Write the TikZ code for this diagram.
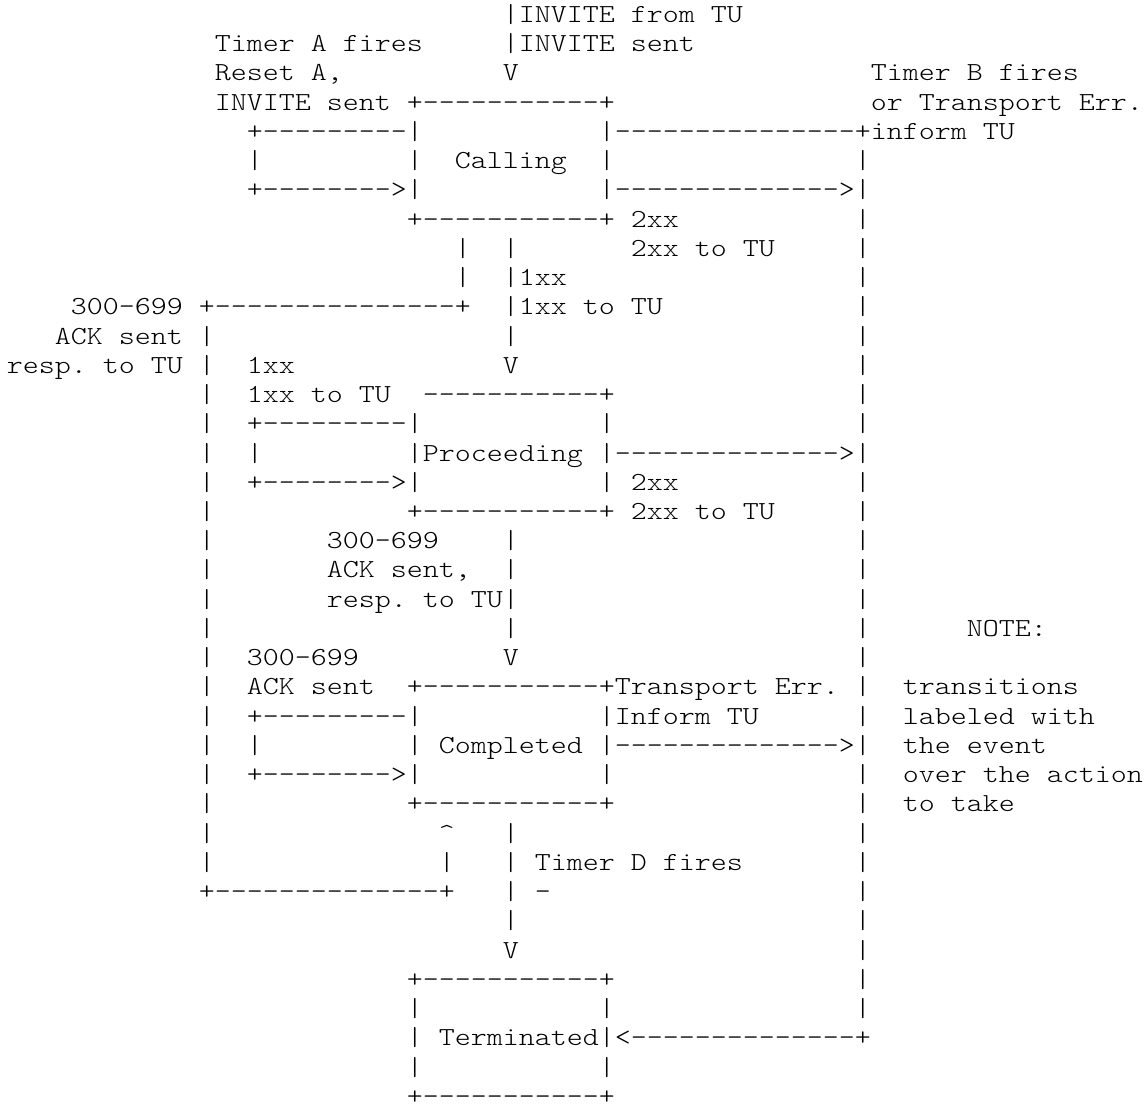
\documentclass[tikz,border=0pt]{standalone}
\usepackage{fontspec}
\usepackage{tikz}
\newfontfamily\asciifont{lmmonolt10-regular.otf}[FakeStretch=1.1722,Ligatures=TeXOff]
\newcommand{\asciisetup}{\asciifont\fontsize{26pt}{29pt}\selectfont\frenchspacing\spaceskip=\fontcharwd\font`x\relax}
\tikzset{
    asciitext/.style={anchor=base west, inner sep=0pt, outer sep=0pt, font=\asciisetup}
}
% row, column, text
\newcommand{\asciicell}[3]{\node[asciitext] (a#1c#2) at ({6.8+16*#2},{22.4+29.24*(#1-1)}) {#3};}

\begin{document}
\begin{tikzpicture}[x=1pt, y=-1pt]
    \useasboundingbox (0,0) rectangle (1148,1111);

    % Calling
    \asciicell{1}{31}{|INVITE from TU}
    \asciicell{2}{13}{Timer A fires}
    \asciicell{2}{31}{|INVITE sent}
    \asciicell{3}{13}{Reset A,}
    \asciicell{3}{31}{V}
    \asciicell{3}{54}{Timer B fires}
    \asciicell{4}{13}{INVITE sent +-----------+}
    \asciicell{4}{54}{or Transport Err.}
    \asciicell{5}{15}{+---------|}
    \asciicell{5}{37}{|---------------+inform TU}
    \asciicell{6}{15}{|}
    \asciicell{6}{25}{|}
    \asciicell{6}{28}{Calling}
    \asciicell{6}{37}{|}
    \asciicell{6}{53}{|}
    \asciicell{7}{15}{+-------->|}
    \asciicell{7}{37}{|-------------->|}
    \asciicell{8}{25}{+-----------+ 2xx}
    \asciicell{8}{53}{|}
    \asciicell{9}{28}{|}
    \asciicell{9}{31}{|}
    \asciicell{9}{39}{2xx to TU}
    \asciicell{9}{53}{|}
    \asciicell{10}{28}{|}
    \asciicell{10}{31}{|1xx}
    \asciicell{10}{53}{|}
    \asciicell{11}{4}{300-699 +---------------+}
    \asciicell{11}{31}{|1xx to TU}
    \asciicell{11}{53}{|}
    \asciicell{12}{3}{ACK sent |}
    \asciicell{12}{31}{|}
    \asciicell{12}{53}{|}
    \asciicell{13}{0}{resp. to TU |}
    \asciicell{13}{15}{1xx}
    \asciicell{13}{31}{V}
    \asciicell{13}{53}{|}

    % Proceeding
    \asciicell{14}{12}{|}
    \asciicell{14}{15}{1xx to TU}
    \asciicell{14}{26}{-----------+}
    \asciicell{14}{53}{|}
    \asciicell{15}{12}{|}
    \asciicell{15}{15}{+---------|}
    \asciicell{15}{37}{|}
    \asciicell{15}{53}{|}
    \asciicell{16}{12}{|}
    \asciicell{16}{15}{|}
    \asciicell{16}{25}{|Proceeding |-------------->|}
    \asciicell{17}{12}{|}
    \asciicell{17}{15}{+-------->|}
    \asciicell{17}{37}{| 2xx}
    \asciicell{17}{53}{|}
    \asciicell{18}{12}{|}
    \asciicell{18}{25}{+-----------+ 2xx to TU}
    \asciicell{18}{53}{|}
    \asciicell{19}{12}{|}
    \asciicell{19}{20}{300-699}
    \asciicell{19}{31}{|}
    \asciicell{19}{53}{|}
    \asciicell{20}{12}{|}
    \asciicell{20}{20}{ACK sent,}
    \asciicell{20}{31}{|}
    \asciicell{20}{53}{|}
    \asciicell{21}{12}{|}
    \asciicell{21}{20}{resp. to TU|}
    \asciicell{21}{53}{|}
    \asciicell{22}{12}{|}
    \asciicell{22}{31}{|}
    \asciicell{22}{53}{|}
    \asciicell{22}{60}{NOTE:}
    \asciicell{23}{12}{|}
    \asciicell{23}{15}{300-699}
    \asciicell{23}{31}{V}
    \asciicell{23}{53}{|}

    % Completed
    \asciicell{24}{12}{|}
    \asciicell{24}{15}{ACK sent}
    \asciicell{24}{25}{+-----------+Transport Err. |}
    \asciicell{24}{56}{transitions}
    \asciicell{25}{12}{|}
    \asciicell{25}{15}{+---------|}
    \asciicell{25}{37}{|Inform TU}
    \asciicell{25}{53}{|}
    \asciicell{25}{56}{labeled with}
    \asciicell{26}{12}{|}
    \asciicell{26}{15}{|}
    \asciicell{26}{25}{|}
    \asciicell{26}{27}{Completed |-------------->|}
    \asciicell{26}{56}{the event}
    \asciicell{27}{12}{|}
    \asciicell{27}{15}{+-------->|}
    \asciicell{27}{37}{|}
    \asciicell{27}{53}{|}
    \asciicell{27}{56}{over the action}
    \asciicell{28}{12}{|}
    \asciicell{28}{25}{+-----------+}
    \asciicell{28}{53}{|}
    \asciicell{28}{56}{to take}
    \asciicell{29}{12}{|}
    \asciicell{29}{27}{\textasciicircum}
    \asciicell{29}{31}{|}
    \asciicell{29}{53}{|}
    \asciicell{30}{12}{|}
    \asciicell{30}{27}{|}
    \asciicell{30}{31}{| Timer D fires}
    \asciicell{30}{53}{|}
    \asciicell{31}{12}{+--------------+}
    \asciicell{31}{31}{| -}
    \asciicell{31}{53}{|}
    \asciicell{32}{31}{|}
    \asciicell{32}{53}{|}
    \asciicell{33}{31}{V}
    \asciicell{33}{53}{|}

    % Terminated
    \asciicell{34}{25}{+-----------+}
    \asciicell{34}{53}{|}
    \asciicell{35}{25}{|}
    \asciicell{35}{37}{|}
    \asciicell{35}{53}{|}
    \asciicell{36}{25}{|}
    \asciicell{36}{27}{Terminated|<--------------+}
    \asciicell{37}{25}{|}
    \asciicell{37}{37}{|}
    \asciicell{38}{25}{+-----------+}
\end{tikzpicture}
\end{document}
